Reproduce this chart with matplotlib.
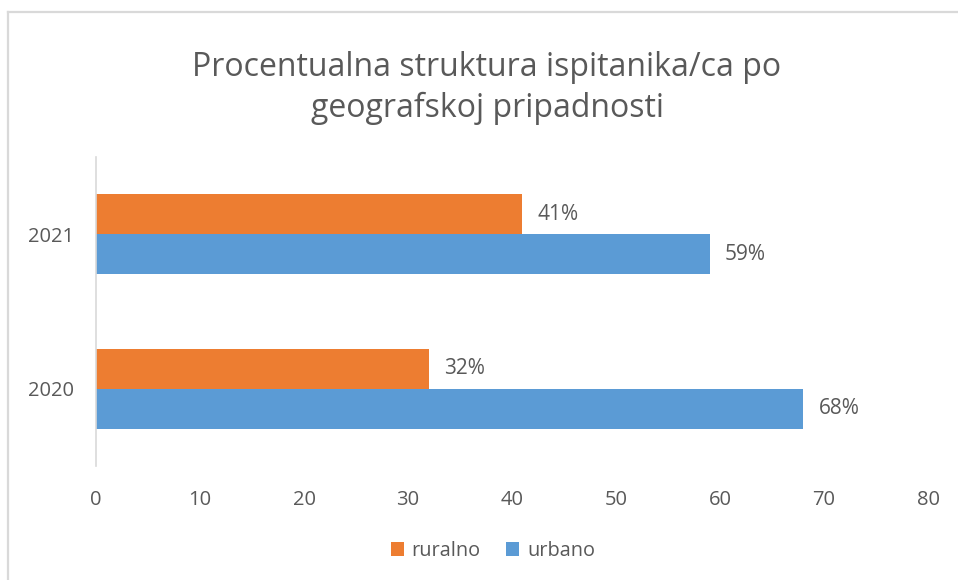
import matplotlib
matplotlib.use("Agg")
import matplotlib.pyplot as plt
from matplotlib.lines import Line2D
from matplotlib.patches import Patch

plt.rcParams['font.family'] = ['Open Sans', 'DejaVu Sans']

title = "Procentualna struktura ispitanika/ca po\ngeografskoj pripadnosti"
years = ["2020", "2021"]
series_names = ["ruralno", "urbano"]
ruralno = [32, 41]
urbano = [68, 59]
x_ticks = [0, 10, 20, 30, 40, 50, 60, 70, 80]

ORANGE = "#ED7D31"
BLUE = "#5B9BD5"
TEXT = "#595959"
GRID = "#D9D9D9"

W, H = 958, 580
fig = plt.figure(figsize=(W / 100, H / 100), dpi=100)
fig.patch.set_facecolor("white")

ax = fig.add_axes([96 / W, 1 - 466 / H, (928 - 96) / W, (466 - 157) / H])

ypos = list(range(len(years)))
bh = 0.26
b1 = ax.barh([y + bh / 2 for y in ypos], ruralno, height=bh, color=ORANGE, label=series_names[0])
b2 = ax.barh([y - bh / 2 for y in ypos], urbano, height=bh, color=BLUE, label=series_names[1])

for bars, vals in ((b1, ruralno), (b2, urbano)):
    for rect, v in zip(bars, vals):
        ax.annotate(f"{v}%", xy=(rect.get_width(), rect.get_y() + rect.get_height() / 2),
                    xytext=(11, 0), textcoords="offset points", va="center", ha="left",
                    fontsize=15, color=TEXT)

ax.set_xlim(0, 80)
ax.set_ylim(-0.5, 1.5)
ax.set_xticks(x_ticks)
ax.set_xticklabels([str(t) for t in x_ticks])
ax.set_yticks(ypos)
ax.set_yticklabels(years)
ax.tick_params(axis="both", length=0, labelsize=14.5, labelcolor=TEXT)
ax.tick_params(axis="x", pad=17)
ax.tick_params(axis="y", pad=16)
for s in ("top", "right", "bottom"):
    ax.spines[s].set_visible(False)
ax.spines["left"].set_color(GRID)
ax.spines["left"].set_linewidth(1.2)

fig.text(487 / W, 1 - 88 / H, title, ha="center", va="center", fontsize=23,
         color=TEXT, linespacing=1.27)

handles = [Patch(facecolor=ORANGE, label=series_names[0]),
           Patch(facecolor=BLUE, label=series_names[1])]
fig.legend(handles=handles, loc="center", bbox_to_anchor=(493 / W, 1 - 551 / H), ncol=2,
           frameon=False, fontsize=14.3, labelcolor=TEXT, handlelength=0.65,
           handleheight=0.65, handletextpad=0.4, columnspacing=1.3)

fig.add_artist(Line2D([7.5 / W, 1], [1 - 12 / H, 1 - 12 / H], color=GRID, lw=1.6,
                      transform=fig.transFigure))
fig.add_artist(Line2D([7.5 / W, 7.5 / W], [0, 1 - 12 / H], color=GRID, lw=1.6,
                      transform=fig.transFigure))

fig.savefig("out.png", dpi=100, facecolor="white")
